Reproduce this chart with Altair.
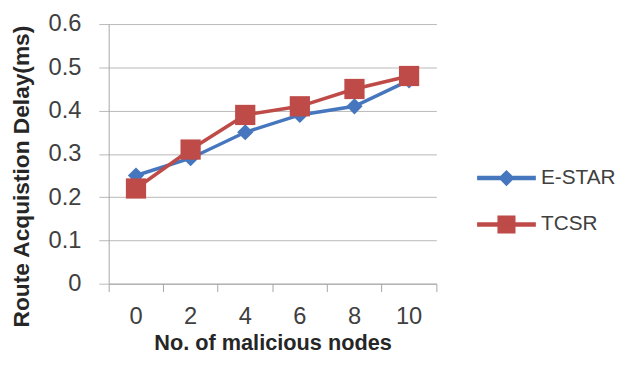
import altair as alt
import pandas as pd

nodes = [0, 2, 4, 6, 8, 10]
estar = [0.25, 0.29, 0.35, 0.39, 0.41, 0.47]
tcsr = [0.22, 0.31, 0.39, 0.41, 0.45, 0.48]
series_names = ["E-STAR", "TCSR"]
colors = ["#4677BE", "#BE4B48"]
y_ticks = [0, 0.1, 0.2, 0.3, 0.4, 0.5, 0.6]

df = pd.DataFrame({
    "nodes": nodes * 2,
    "delay": estar + tcsr,
    "series": [series_names[0]] * len(nodes) + [series_names[1]] * len(nodes),
})

FONT = "Liberation Sans"
LABEL_COLOR = "#404040"
TITLE_COLOR = "#262626"

diamond_path = "M-1.45,-0.075H1.45V0.075H-1.45Z M0,-0.36L0.36,0L0,0.36L-0.36,0Z"
square_path = "M-1.45,-0.075H1.45V0.075H-1.45Z M-0.42,-0.42H0.42V0.42H-0.42Z"

x_enc = alt.X(
    "nodes:O",
    title="No. of malicious nodes",
    scale=alt.Scale(type="band", paddingInner=0, paddingOuter=0),
    axis=alt.Axis(
        labelAngle=0, labelFont=FONT, labelFontSize=24, labelColor=LABEL_COLOR,
        labelPadding=13, tickSize=8, tickColor="#A6A6A6", domainColor="#A6A6A6",
        bandPosition=1, tickExtra=True, grid=False,
        titleFont=FONT, titleFontSize=22, titleFontWeight="bold", titleColor=TITLE_COLOR,
        titlePadding=5,
    ),
)
y_enc = alt.Y(
    "delay:Q",
    title="Route Acquistion Delay(ms)",
    scale=alt.Scale(domain=[0, 0.6], nice=False, zero=True),
    axis=alt.Axis(
        values=y_ticks, format=".1~f", labelFont=FONT, labelFontSize=24,
        labelColor=LABEL_COLOR, labelPadding=18, tickSize=10, tickColor="#B8B8B8",
        domainColor="#A6A6A6", grid=True, gridColor="#B8B8B8",
        titleFont=FONT, titleFontSize=23, titleFontWeight="bold", titleColor=TITLE_COLOR,
        titlePadding=15, titleY=154,
    ),
)
color_scale = alt.Scale(domain=series_names, range=colors)

leg = alt.Legend(
    title=None, orient="none", legendX=382, legendY=135, padding=0,
    symbolSize=1600, rowPadding=15, labelOffset=14, labelFont=FONT,
    labelFontSize=21, labelColor=LABEL_COLOR, symbolOpacity=1,
)

base = alt.Chart(df).encode(x=x_enc, y=y_enc)

legend_layer = base.transform_filter("false").mark_point(filled=True, opacity=1).encode(
    color=alt.Color("series:N", scale=color_scale, legend=leg),
    shape=alt.Shape("series:N", scale=alt.Scale(domain=series_names, range=[diamond_path, square_path]), legend=leg),
)
lines = base.mark_line(strokeWidth=3.5).encode(
    color=alt.Color("series:N", scale=color_scale, legend=leg)
)
diamonds = base.transform_filter(alt.datum.series == "E-STAR").mark_point(
    shape="diamond", filled=True, size=270, opacity=1
).encode(color=alt.Color("series:N", scale=color_scale, legend=leg))
squares = base.transform_filter(alt.datum.series == "TCSR").mark_point(
    shape="square", filled=True, size=420, opacity=1
).encode(color=alt.Color("series:N", scale=color_scale, legend=leg))

chart = alt.layer(legend_layer, lines, diamonds, squares).properties(
    width=332, height=263,
    autosize=alt.AutoSizeParams(type="none"),
    padding={"left": 102, "top": 14, "right": 185, "bottom": 73},
).configure_view(stroke=None)

chart.save("out.html", embed_options={"renderer": "svg", "actions": False})
